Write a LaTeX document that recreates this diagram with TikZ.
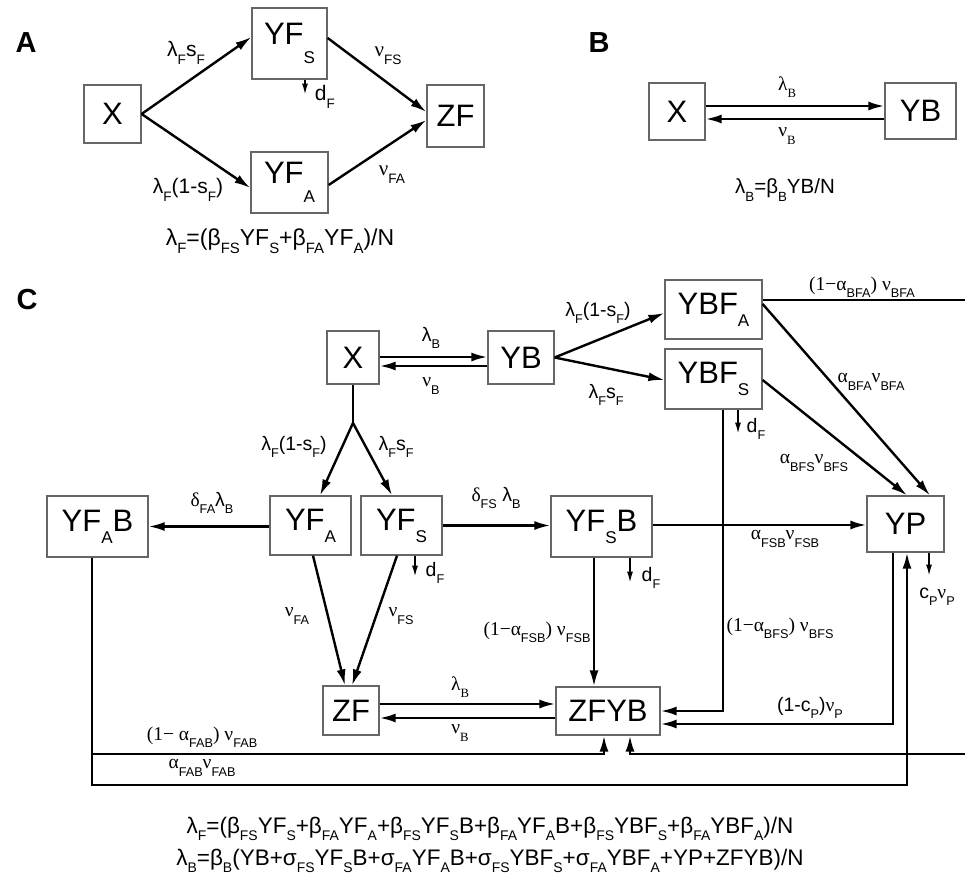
\documentclass[tikz,border=0pt]{standalone}
\usepackage{fontspec}
\usepackage{graphicx}
\setmainfont{Liberation Sans}
\newfontfamily\tms{Liberation Serif}
\usetikzlibrary{arrows.meta,calc}
\newcommand\dn[1]{\raisebox{-0.37em}{\scalebox{0.65}{#1}}}
\newcommand\fdn[1]{\raisebox{-0.3em}{\scalebox{0.62}{#1}}}
\newcommand\bdn[1]{\raisebox{-0.39em}{\scalebox{0.55}{#1}}}
\newcommand\adn[1]{\raisebox{-0.62em}{\scalebox{0.55}{#1}}}
\begin{document}
\begin{tikzpicture}[x=1pt,y=-1pt,
  box/.style={draw=black!60, line width=1.2pt, inner sep=0pt, font=\fontsize{31}{31}\selectfont},
  lab/.style={inner sep=0pt, font=\fontsize{19.5}{19.5}\selectfont},
  labA/.style={inner sep=0pt, font=\fontsize{21}{21}\selectfont},
  panel/.style={inner sep=0pt, font=\bfseries\fontsize{29}{29}\selectfont},
  arr/.style={line width=2.4pt, -{Latex[length=16pt,width=9pt]}},
  ln/.style={line width=2.4pt},
  sarr/.style={line width=1.5pt, -{Latex[length=11pt,width=6pt]}}]
\fill[white] (0,0) rectangle (965,882);
\useasboundingbox (0,0) rectangle (965,882);

% ---------- Panel A ----------
\node[panel] (pA) at (26,43) {A};
\node[box, minimum width=57pt, minimum height=58pt] (xa) at (112.5,114) {X};
\node[box, minimum width=75pt, minimum height=71pt] (yfsa) at (289.5,43.5) {YF\adn{S}};
\node[box, minimum width=77pt, minimum height=61pt] (yfaa) at (289.5,182.5) {YF\adn{A}};
\node[box, minimum width=57pt, minimum height=62pt] (zfa) at (455.5,116) {ZF};
\draw[arr] (xa.east) -- ([yshift=6.5pt]yfsa.west);
\draw[arr] (xa.east) -- ([yshift=-5.5pt]yfaa.west);
\draw[arr] ([yshift=5.5pt]yfsa.east) -- ([yshift=4pt]zfa.west);
\draw[arr] ([yshift=-2.5pt]yfaa.east) -- ([yshift=-4pt]zfa.west);
\draw[sarr] ([xshift=15.5pt]yfsa.south) -- ++(0,15);
\node[labA] (la1) at (186,53) {λ\dn{F}s\dn{F}};
\node[labA] (la2) at (388,56) {{\tms ν}\dn{FS}};
\node[labA] (la3) at (325,97) {d\dn{F}};
\node[labA] (la4) at (188,190) {λ\dn{F}(1-s\dn{F})};
\node[labA] (la5) at (392,175) {{\tms ν}\dn{FA}};
\node[inner sep=0pt, font=\fontsize{23}{23}\selectfont] (fa) at (280,241) {λ\dn{F}=(β\dn{FS}YF\dn{S}+β\dn{FA}YF\dn{A})/N};

% ---------- Panel B ----------
\node[panel] (pB) at (599,43) {B};
\node[box, minimum width=56pt, minimum height=57pt] (xb) at (677,111.5) {X};
\node[box, minimum width=71pt, minimum height=56pt] (ybb) at (920.5,111) {YB};
\draw[arr] ([yshift=5.5pt]xb.east) -- ([yshift=5pt]ybb.west);
\draw[arr] ([yshift=-8pt]ybb.west) -- ([yshift=-7.5pt]xb.east);
\node[lab] (lb1) at (787,87) {\tms λ\dn{B}};
\node[lab] (lb2) at (787,136) {\tms ν\dn{B}};
\node[inner sep=0pt, font=\fontsize{20.5}{20.5}\selectfont] (fb) at (785,190) {λ\dn{B}=β\dn{B}YB/N};

% ---------- Panel C ----------
\node[panel] (pC) at (27,300) {C};
\node[box, minimum width=52pt, minimum height=53pt] (xc) at (353,357.5) {X};
\node[box, minimum width=66pt, minimum height=53pt] (ybc) at (521,357.5) {YB};
\node[box, minimum width=97pt, minimum height=59pt] (ybfa) at (713.5,309.5) {YBF\bdn{A}};
\node[box, minimum width=97pt, minimum height=60pt] (ybfs) at (713.5,379) {YBF\bdn{S}};
\node[box, minimum width=101pt, minimum height=61pt] (yfab) at (97.5,526.5) {YF\bdn{A}B};
\node[box, minimum width=81pt, minimum height=59pt] (yfac) at (310.5,525.5) {YF\bdn{A}};
\node[box, minimum width=81pt, minimum height=59pt] (yfsc) at (401.5,525.5) {YF\bdn{S}};
\node[box, minimum width=101pt, minimum height=61pt] (yfsb) at (601.5,526.5) {YF\bdn{S}B};
\node[box, minimum width=77pt, minimum height=56pt] (yp) at (905.5,524) {YP};
\node[box, minimum width=56pt, minimum height=49pt] (zfc) at (351,710.5) {ZF};
\node[box, minimum width=104pt, minimum height=48pt] (zfyb) at (608,711) {ZFYB};

\coordinate (br) at (353,423);
\coordinate (re1) at (965,300);
\coordinate (c1) at (723,711);
\coordinate (c2) at (893,724);
\coordinate (c3) at (92,785);
\coordinate (c4) at (907,785);
\coordinate (c5) at (92,754);
\coordinate (c6) at (604,754);
\coordinate (c7) at (630,754);
\coordinate (re2) at (965,754);

\draw[arr] ([yshift=0.5pt]xc.east) -- ([yshift=0.5pt]ybc.west);
\draw[arr] ([yshift=-8.5pt]ybc.west) -- ([yshift=-8.5pt]xc.east);
\draw[ln] (xc.south) -- (br);
\draw[arr] (br) -- ([xshift=9.5pt]yfac.north);
\draw[arr] (br) -- ([xshift=-9.5pt]yfsc.north);
\draw[arr] (ybc.east) -- ([yshift=-3.5pt]ybfa.west);
\draw[arr] (ybc.east) -- ([yshift=-1pt]ybfs.west);
\draw[ln] (ybfa.east |- re1) -- (re1);
\draw[arr] ([yshift=5.5pt]ybfa.east) -- ([xshift=24.5pt]yp.north);
\draw[arr] ([yshift=-1pt]ybfs.east) -- ([xshift=1.5pt]yp.north);
\draw[arr] ([xshift=9.5pt]ybfs.south) -- (c1) -- (zfyb.east |- c1);
\draw[sarr] ([xshift=24.5pt]ybfs.south) -- ++(0,24);
\draw[arr] (yfac.west |- yfab.east) -- (yfab.east);
\draw[arr] (yfsc.east) -- (yfsb.west |- yfsc.east);
\draw[arr] ([yshift=1.5pt]yfsb.east) -- ([yshift=-1pt]yp.west);
\draw[arr] ([xshift=-7.5pt]yfsb.south) -- ([xshift=-14pt]zfyb.north);
\draw[sarr] ([xshift=28.5pt]yfsb.south) -- ++(0,25);
\draw[sarr] ([xshift=13.5pt]yfsc.south) -- ++(0,21);
\draw[arr] ([xshift=2.5pt]yfac.south) -- ([xshift=-6pt]zfc.north);
\draw[arr] ([xshift=-4.5pt]yfsc.south) -- ([xshift=1pt]zfc.north);
\draw[arr] ([yshift=6.5pt]zfc.east) -- ([yshift=7pt]zfyb.west);
\draw[arr] ([yshift=-7pt]zfyb.west) -- ([yshift=-7.5pt]zfc.east);
\draw[arr] ([xshift=-12.5pt]yp.south) -- (c2) -- (zfyb.east |- c2);
\draw[arr] ([xshift=-5.5pt]yfab.south) -- (c3) -- (c4) -- ([xshift=1.5pt]yp.south);
\draw[arr] (c5) -- (c6) -- (zfyb.south -| c6);
\draw[arr] (re2) -- (c7) -- (zfyb.south -| c7);
\draw[sarr] ([xshift=23.5pt]yp.south) -- ++(0,23);

\node[lab] (lc1) at (431,338) {λ\dn{B}};
\node[lab] (lc2) at (431,386) {{\tms ν}\dn{B}};
\node[lab] (lc3) at (294,447) {λ\dn{F}(1-s\dn{F})};
\node[lab] (lc4) at (396,447) {λ\dn{F}s\dn{F}};
\node[lab] (lc5) at (212,503) {{\tms δ}\dn{FA}λ\dn{B}};
\node[lab] (lc6) at (496,498) {{\tms δ}\dn{FS} λ\dn{B}};
\node[lab] (lc7) at (435,573) {d\dn{F}};
\node[lab] (lc8) at (651,578) {d\dn{F}};
\node[lab] (lc9) at (756,429) {d\dn{F}};
\node[lab] (lc10) at (297,616) {{\tms ν}\dn{FA}};
\node[lab] (lc11) at (401,616) {{\tms ν}\dn{FS}};
\node[lab] (lc12) at (460,687) {\tms λ\dn{B}};
\node[lab] (lc13) at (460,733) {\tms ν\dn{B}};
\node[lab] (lc14) at (537,632) {{\tms (1−α}\dn{FSB}{\tms )~ν}\dn{FSB}};
\node[lab] (lc15) at (780,628) {{\tms (1−α}\dn{BFS}{\tms )~ν}\dn{BFS}};
\node[lab] (lc16) at (785,539) {{\tms α}\dn{FSB}{\tms ν}\dn{FSB}};
\node[lab] (lc17) at (810,708) {(1-c\dn{P}){\tms ν}\dn{P}};
\node[lab] (lc18) at (937,597) {c\dn{P}{\tms ν}\dn{P}};
\node[lab] (lc19) at (598,313) {λ\dn{F}(1-s\dn{F})};
\node[lab] (lc20) at (606,395) {λ\dn{F}s\dn{F}};
\node[lab] (lc21) at (862,287) {{\tms (1−α}\dn{BFA}{\tms )~ν}\dn{BFA}};
\node[lab] (lc22) at (871,382) {{\tms α}\dn{BFA}{\tms ν}\dn{BFA}};
\node[lab] (lc23) at (814,463) {{\tms α}\dn{BFS}{\tms ν}\dn{BFS}};
\node[lab] (lc24) at (202,737) {{\tms (1−~α}\dn{FAB}{\tms )~ν}\dn{FAB}};
\node[lab] (lc25) at (202,768) {{\tms α}\dn{FAB}{\tms ν}\dn{FAB}};

\node[inner sep=0pt, font=\fontsize{22.5}{22.5}\selectfont] (f1) at (490,829) {λ\fdn{F}=(β\fdn{FS}YF\fdn{S}+β\fdn{FA}YF\fdn{A}+β\fdn{FS}YF\fdn{S}B+β\fdn{FA}YF\fdn{A}B+β\fdn{FS}YBF\fdn{S}+β\fdn{FA}YBF\fdn{A})/N};
\node[inner sep=0pt, font=\fontsize{22.5}{22.5}\selectfont] (f2) at (490,861) {λ\fdn{B}=β\fdn{B}(YB+σ\fdn{FS}YF\fdn{S}B+σ\fdn{FA}YF\fdn{A}B+σ\fdn{FS}YBF\fdn{S}+σ\fdn{FA}YBF\fdn{A}+YP+ZFYB)/N};
\end{tikzpicture}
\end{document}
